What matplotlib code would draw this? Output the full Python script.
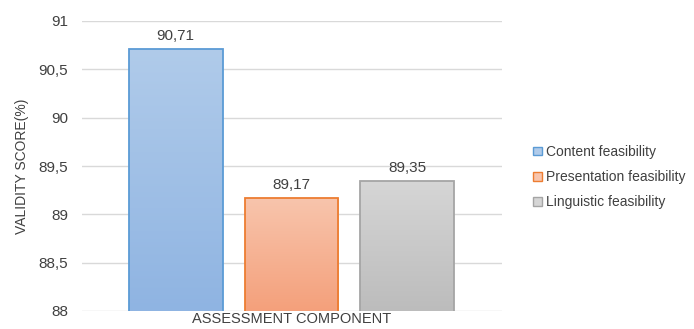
"""Validity score per assessment component, Excel-style gradient bars."""

import matplotlib

matplotlib.use("Agg")
import matplotlib.pyplot as plt
import numpy as np
from matplotlib.colors import LinearSegmentedColormap
from matplotlib.patches import Patch

plt.rcParams["font.family"] = ["Liberation Sans", "DejaVu Sans"]

components = ["Content feasibility", "Presentation feasibility", "Linguistic feasibility"]
scores = [90.71, 89.17, 89.35]
score_labels = ["90,71", "89,17", "89,35"]
y_ticks = [88, 88.5, 89, 89.5, 90, 90.5, 91]
y_tick_labels = ["88", "88,5", "89", "89,5", "90", "90,5", "91"]

# (top colour, bottom colour, edge colour) per series
styles = [
    ("#b0cbea", "#8fb4e2", "#5b9bd5"),
    ("#f8c5ad", "#f4a07b", "#ed7d31"),
    ("#d6d6d6", "#bcbcbc", "#a5a5a5"),
]

fig = plt.figure(figsize=(6.94, 3.29), dpi=100)
ax = fig.add_axes([82 / 694, 1 - 311 / 329, 420 / 694, 290 / 329])

x = np.arange(len(scores))
width = 0.81
bars = ax.bar(x, scores, width=width, bottom=0, color="none", zorder=3)

gradient = np.linspace(0, 1, 256).reshape(-1, 1)
for bar, (top, bottom, edge) in zip(bars, styles):
    cmap = LinearSegmentedColormap.from_list("g", [bottom, top])
    bx, bw = bar.get_x(), bar.get_width()
    img = ax.imshow(
        gradient,
        cmap=cmap,
        aspect="auto",
        origin="lower",
        extent=[bx, bx + bw, 88, bar.get_height()],
        zorder=3,
    )
    img.set_clip_path(bar)
    bar.set_edgecolor(edge)
    bar.set_linewidth(1.3)
    bar.set_zorder(4)

ax.set_xlim(-0.81, 2.82)
ax.set_ylim(88, 91)

for xi, val, lab in zip(x, scores, score_labels):
    ax.text(xi, val + 0.06, lab, ha="center", va="bottom", fontsize=11, color="#404040")

ax.set_yticks(y_ticks)
ax.set_yticklabels(y_tick_labels)
ax.set_xticks([])
ax.tick_params(axis="y", length=0, labelsize=11, labelcolor="#404040", pad=10)
ax.grid(axis="y", color="#d9d9d9", linewidth=1, zorder=0)
for spine in ax.spines.values():
    spine.set_visible(False)

ax.set_ylabel(
    "VALIDITY SCORE(%)",
    fontsize=10,
    color="#404040",
    labelpad=7,
    family=["Liberation Sans Narrow", "Liberation Sans", "DejaVu Sans"],
)
ax.set_xlabel("ASSESSMENT COMPONENT", fontsize=10.5, color="#404040", labelpad=1)

handles = [Patch(facecolor=top, edgecolor=edge, linewidth=1) for top, _, edge in styles]
fig.legend(
    handles,
    components,
    loc="center left",
    bbox_to_anchor=(520 / 694, 1 - 177 / 329),
    frameon=False,
    fontsize=10,
    handlelength=0.7,
    handleheight=0.6,
    handletextpad=0.3,
    labelspacing=0.8,
    labelcolor="#404040",
)

fig.savefig("out.png", dpi=100)
